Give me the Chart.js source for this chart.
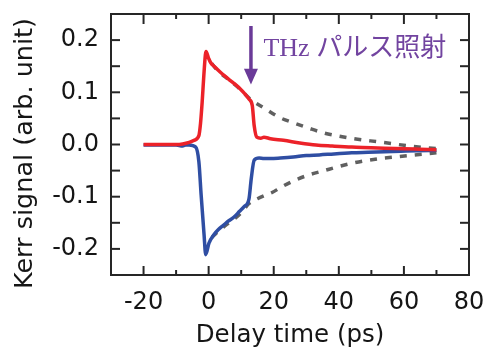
<!DOCTYPE html>
<html><head><meta charset="utf-8">
<script src="https://cdn.jsdelivr.net/npm/chart.js@4"></script>
<style>html,body{margin:0;padding:0;background:#fff;}canvas{display:block}</style>
</head><body>
<canvas id="c" width="484" height="352"></canvas>
<script>
// ---- data ----
const xTicks = [-20, 0, 20, 40, 60, 80];
const yTicks = [-0.2, -0.1, 0, 0.1, 0.2];

const redT = [-20, -10, -8, -6, -4.5, -3, -2.5, -2, -1.5, -1, -0.8, 0, 0.6, 2, 3.7, 5, 6.8, 8, 9.8, 11, 12.4, 13.4, 14, 14.8, 16, 17, 19, 23, 28, 33, 38, 44, 50, 54, 60, 65, 70];
const redV = [0, 0, 0.001, 0.004, 0.008, 0.017, 0.04, 0.08, 0.13, 0.172, 0.178, 0.165, 0.157, 0.148, 0.138, 0.131, 0.122, 0.116, 0.106, 0.098, 0.087, 0.075, 0.036, 0.014, 0.012, 0.014, 0.011, 0.008, 0.003, -0.001, -0.003, -0.005, -0.006, -0.007, -0.008, -0.009, -0.010];

const blueT = [-20, -10, -8, -7, -6, -4, -3, -2.3, -1.4, -0.9, 0.1, 1.6, 3, 4.7, 6, 7.8, 9.5, 10.9, 12.4, 13.1, 14, 15.5, 17, 19, 22, 26, 30, 34, 38.5, 44, 49, 54, 59, 64, 70];
const blueV = [-0.001, -0.001, -0.003, -0.001, -0.001, -0.005, -0.033, -0.097, -0.173, -0.211, -0.189, -0.173, -0.163, -0.154, -0.147, -0.139, -0.128, -0.119, -0.104, -0.065, -0.030, -0.026, -0.027, -0.027, -0.026, -0.024, -0.021, -0.020, -0.018, -0.016, -0.015, -0.014, -0.013, -0.012, -0.011];

const upT = [1, 3, 5, 8, 10, 12.4, 13.4, 17.5, 21.7, 26.3, 30.9, 35.5, 40.1, 44.7, 52.9, 57, 62, 70];
const upV = [0.155, 0.140, 0.130, 0.115, 0.104, 0.089, 0.084, 0.068, 0.052, 0.041, 0.031, 0.022, 0.016, 0.011, 0.0045, 0.001, -0.003, -0.008];

const lowT = [1, 3, 5, 8, 10, 12.4, 15, 17.5, 19.5, 22.2, 26.3, 30.9, 35.5, 40.1, 44.7, 52.4, 57, 61.6, 70];
const lowV = [-0.178, -0.166, -0.156, -0.142, -0.131, -0.113, -0.104, -0.097, -0.092, -0.082, -0.069, -0.058, -0.050, -0.042, -0.035, -0.027, -0.024, -0.021, -0.016];

const arrowX = 13, arrowTop = 0.227, arrowHeadBase = 0.145, arrowTip = 0.115, labelY = 0.169;
const labelText = 'THz パルス照射';
const yTitle = 'Kerr signal (arb. unit)';
const xTitle = 'Delay time (ps)';

const pts = (t, v) => t.map((x, i) => ({x: x, y: v[i]}));

const FAMILY = "'DejaVu Sans', sans-serif";
const AXIS_FONT = {family: FAMILY, size: 24};
const TXT = '#151515';

const framePlugin = {
  id: 'frame',
  afterDatasetsDraw(chart) {
    const {ctx, chartArea: a, scales: {x, y}} = chart;
    ctx.save();
    ctx.strokeStyle = '#262626';
    ctx.lineWidth = 2;
    ctx.lineCap = 'butt';
    const line = (x1, y1, x2, y2) => { ctx.beginPath(); ctx.moveTo(x1, y1); ctx.lineTo(x2, y2); ctx.stroke(); };
    for (let v = -20; v <= 70; v += 10) {
      const px = x.getPixelForValue(v);
      const major = v % 20 === 0;
      line(px, a.bottom, px, a.bottom - (major ? 9 : 5));
      line(px, a.top, px, a.top + (major ? 10 : 5));
    }
    for (let k = -4; k <= 4; k++) {
      const py = y.getPixelForValue(k * 0.05);
      line(a.left, py, a.left + 9, py);
      line(a.right, py, a.right - 9, py);
    }
    ctx.strokeRect(a.left, a.top, a.right - a.left, a.bottom - a.top);

    // arrow
    const ax = x.getPixelForValue(arrowX);
    const aTop = y.getPixelForValue(arrowTop);
    const aBase = y.getPixelForValue(arrowHeadBase);
    const aTip = y.getPixelForValue(arrowTip);
    ctx.strokeStyle = '#6a3a98';
    ctx.fillStyle = '#6a3a98';
    ctx.lineWidth = 3.5;
    line(ax, aTop, ax, aBase + 1);
    ctx.beginPath();
    ctx.moveTo(ax - 7, aBase);
    ctx.lineTo(ax + 7, aBase);
    ctx.lineTo(ax, aTip);
    ctx.closePath();
    ctx.fill();

    ctx.fillStyle = '#7244a0';
    ctx.font = "26px 'Liberation Serif', 'Noto Sans CJK JP', serif";
    ctx.textAlign = 'left';
    ctx.textBaseline = 'alphabetic';
    ctx.fillText(labelText, ax + 12.5, y.getPixelForValue(labelY));

    // y-axis title
    ctx.fillStyle = TXT;
    ctx.font = "25.5px " + FAMILY;
    ctx.textAlign = 'center';
    ctx.textBaseline = 'middle';
    ctx.translate(25, (a.top + a.bottom) / 2 + 9);
    ctx.rotate(-Math.PI / 2);
    ctx.fillText(yTitle, 0, 0);
    ctx.restore();
  }
};

new Chart(document.getElementById('c'), {
  type: 'line',
  data: {
    datasets: [
      {label: 'fit1', data: pts(upT, upV), borderColor: '#606060', borderWidth: 3.5, borderDash: [7, 8], pointRadius: 0, cubicInterpolationMode: 'monotone', order: 4},
      {label: 'fit2', data: pts(lowT, lowV), borderColor: '#606060', borderWidth: 3.5, borderDash: [7, 8], pointRadius: 0, cubicInterpolationMode: 'monotone', order: 3},
      {label: 'blue', data: pts(blueT, blueV), borderColor: '#2f4ea3', borderWidth: 3.5, pointRadius: 0, cubicInterpolationMode: 'monotone', order: 2},
      {label: 'red', data: pts(redT, redV), borderColor: '#ec2229', borderWidth: 3.5, pointRadius: 0, cubicInterpolationMode: 'monotone', order: 1}
    ]
  },
  options: {
    responsive: false,
    animation: false,
    devicePixelRatio: 1,
    layout: {padding: {top: 14, right: 15, left: 0, bottom: 0}},
    plugins: {legend: {display: false}, tooltip: {enabled: false}},
    scales: {
      x: {
        type: 'linear', min: -30, max: 80,
        afterBuildTicks: s => { s.ticks = xTicks.map(v => ({value: v})); },
        afterFit: s => { s.height = 77; s.paddingLeft = 0; s.paddingRight = 0; },
        grid: {display: false, drawTicks: false},
        border: {display: false},
        ticks: {padding: 13, font: AXIS_FONT, color: TXT, maxRotation: 0, autoSkip: false, callback: v => String(v)},
        title: {display: true, text: xTitle, font: {family: FAMILY, size: 24.5}, color: TXT, padding: {top: 0, bottom: 2}}
      },
      y: {
        type: 'linear', min: -0.25, max: 0.25,
        afterBuildTicks: s => { s.ticks = yTicks.map(v => ({value: v})); },
        afterFit: s => { s.width = 111; s.paddingTop = 0; s.paddingBottom = 0; },
        grid: {display: false, drawTicks: false},
        border: {display: false},
        ticks: {padding: 12, font: AXIS_FONT, color: TXT, autoSkip: false, callback: v => Number(v).toFixed(1)},
        title: {display: false}
      }
    }
  },
  plugins: [framePlugin]
});
</script>
</body></html>
